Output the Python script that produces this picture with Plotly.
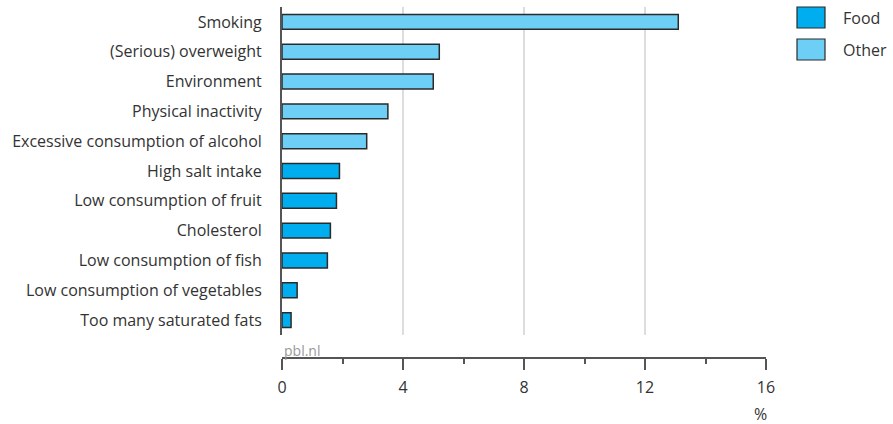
import plotly.graph_objects as go

categories = ["Smoking", "(Serious) overweight", "Environment", "Physical inactivity",
              "Excessive consumption of alcohol", "High salt intake", "Low consumption of fruit",
              "Cholesterol", "Low consumption of fish", "Low consumption of vegetables",
              "Too many saturated fats"]
other_cats = ["Smoking", "(Serious) overweight", "Environment", "Physical inactivity",
              "Excessive consumption of alcohol"]
other_vals = [13.1, 5.2, 5.0, 3.5, 2.8]
food_cats = ["High salt intake", "Low consumption of fruit", "Cholesterol",
             "Low consumption of fish", "Low consumption of vegetables", "Too many saturated fats"]
food_vals = [1.9, 1.8, 1.6, 1.5, 0.5, 0.3]
x_ticks = [0, 4, 8, 12, 16]

FOOD = "#00aeef"
OTHER = "#6dcff6"
EDGE = "#2a2a2a"
FONT = "Open Sans"
TXT = "#333333"

W, H = 893, 424
ml, mr, mt, mb = 282, 127, 7, 66
ph = H - mt - mb
pw = W - ml - mr
ydom0 = (358 - 335) / ph

fig = go.Figure()
fig.add_trace(go.Bar(y=other_cats, x=other_vals, orientation="h", name="Other",
                     marker=dict(color=OTHER, line=dict(color=EDGE, width=1.5)), width=0.5))
fig.add_trace(go.Bar(y=food_cats, x=food_vals, orientation="h", name="Food",
                     marker=dict(color=FOOD, line=dict(color=EDGE, width=1.5)), width=0.5))

fig.update_layout(
    width=W, height=H,
    margin=dict(l=ml, r=mr, t=mt, b=mb, pad=0),
    paper_bgcolor="white", plot_bgcolor="white",
    showlegend=False,
    font=dict(family=FONT, size=16, color=TXT),
    xaxis=dict(range=[0, 16], tickvals=x_ticks, ticktext=[str(v) for v in x_ticks],
               anchor="free", position=0,
               showgrid=True, gridcolor="#dddddd", gridwidth=1.5,
               zeroline=False, showline=True, linecolor="#555555", linewidth=1.5,
               ticks="outside", ticklen=11, tickcolor="#555555", tickwidth=1.5,
               tickfont=dict(size=16, color=TXT), ticklabelstandoff=4,
               minor=dict(tickvals=[2, 6, 10, 14], ticks="outside", ticklen=5,
                          tickcolor="#555555", tickwidth=1.5, showgrid=False),
               fixedrange=True),
    yaxis=dict(domain=[ydom0, 1], categoryorder="array", categoryarray=categories,
               range=[10.5, -0.5], showgrid=False, zeroline=False,
               showline=True, linecolor="#555555", linewidth=2,
               ticks="", ticklabelstandoff=15,
               tickfont=dict(size=16, color=TXT), fixedrange=True),
)

# legend drawn manually
leg = [("Food", FOOD, 7), ("Other", OTHER, 39)]
for name, col, ytop in leg:
    fig.add_shape(type="rect", xref="paper", yref="paper",
                  x0=(797 - ml) / pw, x1=(825 - ml) / pw,
                  y0=(H - mb - ytop) / ph, y1=(H - mb - ytop - 21) / ph,
                  fillcolor=col, line=dict(color=EDGE, width=1.2))
    fig.add_annotation(xref="paper", yref="paper",
                       x=(841 - ml) / pw, y=(H - mb - ytop - 10.5) / ph,
                       text=name, showarrow=False, xanchor="left", yanchor="middle",
                       font=dict(size=16, color=TXT))

fig.add_annotation(xref="paper", yref="paper", x=0, y=(H - mb - 350) / ph,
                   text="pbl.nl", showarrow=False, xanchor="left", yanchor="middle",
                   font=dict(size=14, color="#999999"))
fig.add_annotation(xref="paper", yref="paper", x=(760 - ml) / pw,
                   y=(H - mb - 414) / ph, text="%", showarrow=False,
                   xanchor="center", yanchor="middle", font=dict(size=16, color=TXT))

fig.write_html("out.html", config={"displayModeBar": False},
               post_script="document.body.style.margin='0';document.body.style.padding='0';")
